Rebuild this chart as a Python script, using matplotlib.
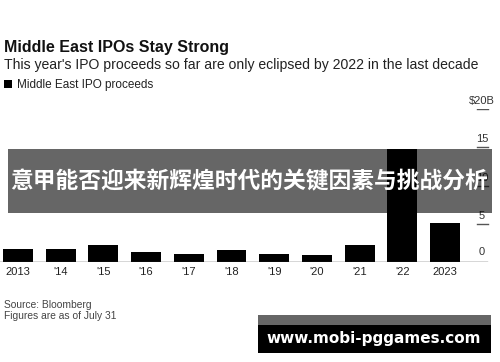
import matplotlib
matplotlib.use("Agg")
import matplotlib.pyplot as plt
import matplotlib.transforms as mtransforms
from matplotlib.patches import Rectangle

years = ["2013", "'14", "'15", "'16", "'17", "'18", "'19", "'20", "'21", "'22", "2023"]
proceeds = [1.66, 1.70, 2.22, 1.27, 1.09, 1.57, 1.09, 0.95, 2.20, 14.8, 5.06]
ytick_vals = [0, 5, 10, 15, 20]
ytick_labels = ["0", "5", "10", "15", "$20B"]

W, H = 500, 362
plt.rcParams['font.family'] = ['Liberation Sans', 'DejaVu Sans']

fig = plt.figure(figsize=(W / 100, H / 100), dpi=100)


def fx(x):
    return x / W


def fy(y):
    return 1 - y / H


# axes: pixel x 0..490, y 109 (20) .. 262 (0)
ax = fig.add_axes([0, fy(262), fx(490), 153 / H])
ax.bar(range(len(years)), proceeds, width=0.70, color="black", zorder=2)
ax.set_xlim(-0.42, 11.05)
ax.set_ylim(0, 20)
for s in ax.spines.values():
    s.set_visible(False)
ax.set_yticks([])
ax.set_xticks(range(len(years)))
ax.set_xticklabels(years, fontsize=8, color="#222222")
ax.tick_params(axis="x", length=0, pad=3.5)

ax.axhline(0, xmin=0, xmax=487 / 490, color="#333333", lw=1, zorder=3)
trans = mtransforms.blended_transform_factory(ax.transAxes, ax.transData)
for v, lab in zip(ytick_vals, ytick_labels):
    if v > 0:
        ax.axhline(v, xmin=477 / 490, xmax=488 / 490, color="#555555", lw=1)
    ax.text(482 / 490, v + (0.9 if v == 0 else 0.65), lab, transform=trans,
            ha="center", va="baseline", fontsize=8, color="#333333", clip_on=False)

# headings
fig.text(fx(4), fy(52), "Middle East IPOs Stay Strong", fontsize=11.5, fontweight="bold",
         color="#111111", va="baseline")
fig.text(fx(4), fy(69), "This year's IPO proceeds so far are only eclipsed by 2022 in the last decade",
         fontsize=10.1, color="#222222", va="baseline")
fig.patches.append(Rectangle((fx(4), fy(88)), 8 / W, 8 / H, transform=fig.transFigure,
                             facecolor="black", linewidth=0))
fig.text(fx(17), fy(88), "Middle East IPO proceeds", fontsize=8.5, color="#222222", va="baseline")

# source
fig.text(fx(4), fy(308), "Source: Bloomberg", fontsize=7.4, color="#444444", va="baseline")
fig.text(fx(4), fy(319), "Figures are as of July 31", fontsize=7.4, color="#444444", va="baseline")

# overlay banner
fig.patches.append(Rectangle((fx(8), fy(213)), 484 / W, 64 / H, transform=fig.transFigure,
                             facecolor="black", alpha=0.6, linewidth=0, zorder=5))
fig.text(fx(249), fy(182), "意甲能否迎来新辉煌时代的关键因素与挑战分析", fontsize=16.4,
         fontweight="bold", color="white", ha="center", va="center", zorder=6,
         family=["Noto Sans CJK SC", "DejaVu Sans"])

# watermark box
fig.patches.append(Rectangle((fx(258), fy(325)), 233 / W, 10 / H, transform=fig.transFigure,
                             facecolor="#666666", linewidth=0, zorder=5))
fig.patches.append(Rectangle((fx(258), fy(353)), 233 / W, 28 / H, transform=fig.transFigure,
                             facecolor="black", linewidth=0, zorder=5))
fig.text(fx(374), fy(339), "www.mobi-pggames.com", fontsize=11, fontweight="bold",
         color="white", ha="center", va="center", zorder=6, family=["DejaVu Sans"])

fig.savefig("out.png", dpi=100)
